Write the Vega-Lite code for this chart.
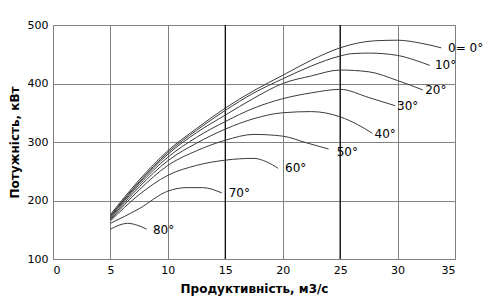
{
  "$schema": "https://vega.github.io/schema/vega-lite/v6.json",
  "width": 402,
  "height": 234,
  "autosize": {"type": "none"},
  "padding": {"left": 53, "top": 25, "right": 45, "bottom": 38},
  "background": "white",
  "config": {
    "view": {"stroke": "#808080", "strokeWidth": 1},
    "font": "DejaVu Sans"
  },
  "datasets": {
    "curves": [
      {"s": "0", "x": 5, "y": 176}, {"s": "0", "x": 7.5, "y": 235}, {"s": "0", "x": 10, "y": 285}, {"s": "0", "x": 12.5, "y": 323}, {"s": "0", "x": 15, "y": 358}, {"s": "0", "x": 17.5, "y": 388}, {"s": "0", "x": 20, "y": 414}, {"s": "0", "x": 22.5, "y": 440}, {"s": "0", "x": 25, "y": 461}, {"s": "0", "x": 26.5, "y": 469}, {"s": "0", "x": 28, "y": 473}, {"s": "0", "x": 30, "y": 474}, {"s": "0", "x": 32, "y": 469}, {"s": "0", "x": 33.8, "y": 461},
      {"s": "10", "x": 5, "y": 174}, {"s": "10", "x": 7.5, "y": 232}, {"s": "10", "x": 10, "y": 282}, {"s": "10", "x": 12.5, "y": 320}, {"s": "10", "x": 15, "y": 354}, {"s": "10", "x": 17.5, "y": 384}, {"s": "10", "x": 20, "y": 408}, {"s": "10", "x": 22.5, "y": 430}, {"s": "10", "x": 25, "y": 447}, {"s": "10", "x": 26, "y": 451}, {"s": "10", "x": 27.5, "y": 452}, {"s": "10", "x": 30, "y": 448}, {"s": "10", "x": 31.5, "y": 440}, {"s": "10", "x": 32.8, "y": 431},
      {"s": "20", "x": 5, "y": 173}, {"s": "20", "x": 7.5, "y": 230}, {"s": "20", "x": 10, "y": 279}, {"s": "20", "x": 12.5, "y": 316}, {"s": "20", "x": 15, "y": 346}, {"s": "20", "x": 17.5, "y": 375}, {"s": "20", "x": 20, "y": 400}, {"s": "20", "x": 22.5, "y": 413}, {"s": "20", "x": 25, "y": 423}, {"s": "20", "x": 27.5, "y": 420}, {"s": "20", "x": 30, "y": 405}, {"s": "20", "x": 32.2, "y": 389},
      {"s": "30", "x": 5, "y": 171}, {"s": "30", "x": 7.5, "y": 227}, {"s": "30", "x": 10, "y": 274}, {"s": "30", "x": 12.5, "y": 308}, {"s": "30", "x": 15, "y": 335}, {"s": "30", "x": 17.5, "y": 358}, {"s": "30", "x": 20, "y": 374}, {"s": "30", "x": 22.5, "y": 384}, {"s": "30", "x": 25, "y": 390}, {"s": "30", "x": 27.5, "y": 376}, {"s": "30", "x": 29.8, "y": 362},
      {"s": "40", "x": 5, "y": 169}, {"s": "40", "x": 7.5, "y": 223}, {"s": "40", "x": 10, "y": 268}, {"s": "40", "x": 12.5, "y": 298}, {"s": "40", "x": 15, "y": 322}, {"s": "40", "x": 17.5, "y": 340}, {"s": "40", "x": 20, "y": 350}, {"s": "40", "x": 22.5, "y": 352}, {"s": "40", "x": 25, "y": 343}, {"s": "40", "x": 26.5, "y": 330}, {"s": "40", "x": 27.8, "y": 315},
      {"s": "50", "x": 5, "y": 167}, {"s": "50", "x": 7.5, "y": 218}, {"s": "50", "x": 10, "y": 260}, {"s": "50", "x": 12.5, "y": 285}, {"s": "50", "x": 15, "y": 303}, {"s": "50", "x": 17.5, "y": 313}, {"s": "50", "x": 20, "y": 310}, {"s": "50", "x": 22, "y": 299}, {"s": "50", "x": 24, "y": 288},
      {"s": "60", "x": 5, "y": 165}, {"s": "60", "x": 7.5, "y": 210}, {"s": "60", "x": 10, "y": 243}, {"s": "60", "x": 12.5, "y": 260}, {"s": "60", "x": 15, "y": 269}, {"s": "60", "x": 17.5, "y": 272}, {"s": "60", "x": 18.6, "y": 266}, {"s": "60", "x": 19.6, "y": 255},
      {"s": "70", "x": 5, "y": 161}, {"s": "70", "x": 7.5, "y": 186}, {"s": "70", "x": 10, "y": 216}, {"s": "70", "x": 11.6, "y": 222}, {"s": "70", "x": 13, "y": 222}, {"s": "70", "x": 14.7, "y": 213},
      {"s": "80", "x": 5, "y": 151}, {"s": "80", "x": 6.5, "y": 161}, {"s": "80", "x": 7.3, "y": 158}, {"s": "80", "x": 8.15, "y": 151}
    ],
    "labels": [
      {"t": "0= 0°", "x": 34.4, "y": 461},
      {"t": "10°", "x": 33.25, "y": 432},
      {"t": "20°", "x": 32.4, "y": 389},
      {"t": "30°", "x": 29.95, "y": 361},
      {"t": "40°", "x": 28.0, "y": 314},
      {"t": "50°", "x": 24.7, "y": 283},
      {"t": "60°", "x": 20.2, "y": 256},
      {"t": "70°", "x": 15.3, "y": 213},
      {"t": "80°", "x": 8.7, "y": 150}
    ],
    "rules": [{"x": 15}, {"x": 25}]
  },
  "layer": [
    {
      "data": {"name": "rules"},
      "mark": {"type": "rule", "color": "#000000", "strokeWidth": 1.2},
      "encoding": {
        "x": {"field": "x", "type": "quantitative", "scale": {"domain": [0, 35]}}
      }
    },
    {
      "data": {"name": "curves"},
      "mark": {"type": "line", "color": "#3a3a3a", "strokeWidth": 1, "interpolate": "monotone"},
      "encoding": {
        "x": {
          "field": "x", "type": "quantitative",
          "scale": {"domain": [0, 35], "nice": false, "zero": false},
          "axis": {
            "values": [0, 2.5, 5, 7.5, 10, 12.5, 15, 17.5, 20, 22.5, 25, 27.5, 30, 32.5, 35],
            "labelExpr": "datum.value % 5 === 0 ? datum.label : ''",
            "title": "Продуктивність, м3/с",
            "titleFont": "DejaVu Sans", "titleFontSize": 12, "titleFontWeight": "bold", "titleColor": "#000",
            "titlePadding": 8,
            "labelFont": "DejaVu Sans", "labelFontSize": 11, "labelColor": "#000",
            "labelPadding": 5,
            "ticks": false, "domain": false,
            "grid": true, "gridColor": "#808080", "gridWidth": 1, "gridOpacity": 1
          }
        },
        "y": {
          "field": "y", "type": "quantitative",
          "scale": {"domain": [100, 500], "nice": false, "zero": false},
          "axis": {
            "values": [100, 200, 300, 400, 500],
            "title": "Потужність, кВт",
            "titleFont": "DejaVu Sans", "titleFontSize": 12, "titleFontWeight": "bold", "titleColor": "#000",
            "titlePadding": 6,
            "labelFont": "DejaVu Sans", "labelFontSize": 11, "labelColor": "#000",
            "labelPadding": 5,
            "ticks": false, "domain": false,
            "grid": true, "gridColor": "#808080", "gridWidth": 1, "gridOpacity": 1
          }
        },
        "detail": {"field": "s", "type": "nominal"}
      }
    },
    {
      "data": {"name": "labels"},
      "mark": {"type": "text", "align": "left", "baseline": "middle", "font": "DejaVu Sans", "fontSize": 12, "color": "#000"},
      "encoding": {
        "x": {"field": "x", "type": "quantitative"},
        "y": {"field": "y", "type": "quantitative"},
        "text": {"field": "t"}
      }
    }
  ]
}
